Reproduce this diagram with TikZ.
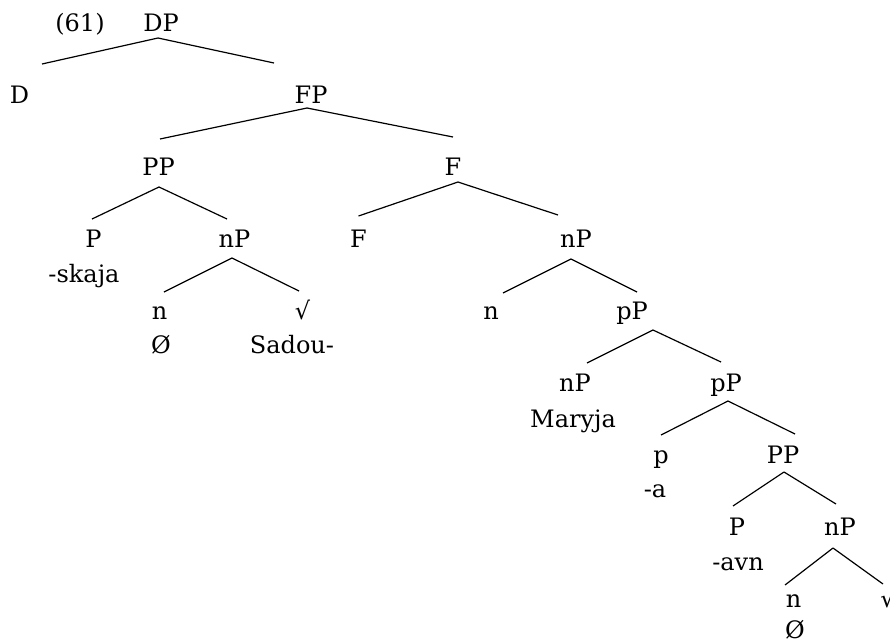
\documentclass[tikz,border=0pt]{standalone}
\usepackage{fontspec}
\setmainfont{DejaVu Serif}

\begin{document}
\begin{tikzpicture}[x=1pt, y=-1pt, line width=1.2pt,
    every node/.style={anchor=base, inner sep=0pt, font=\fontsize{24}{28}\selectfont}]
    \useasboundingbox (0,0) rectangle (890,643);

    % labels, row by row (baselines 72pt apart)
    \node (num) at (80,31) {(61)};
    \node (DP) at (161,31) {DP};

    \node (D) at (19.5,103) {D};
    \node (FP) at (311,103) {FP};

    \node (PP1) at (158.5,175) {PP};
    \node (F1) at (453,175) {F};

    \node (P1) at (93.5,247) {P};
    \node (nP1) at (234.5,247) {nP};
    \node (F2) at (358.5,247) {F};
    \node (nP2) at (576,247) {nP};
    \node (skaja) at (84,282) {-skaja};

    \node (n1) at (159.5,319) {n};
    \node (root1) at (302.5,319) {√};
    \node (n2) at (491,319) {n};
    \node (pP1) at (632,319) {pP};
    \node (zero1) at (161,353) {Ø};
    \node (sadou) at (292,353) {Sadou-};

    \node (nP3) at (575,391) {nP};
    \node (pP2) at (726,391) {pP};
    \node (maryja) at (573,427) {Maryja};

    \node (p1) at (661,463) {p};
    \node (PP2) at (783,463) {PP};
    \node (a) at (655,497) {-a};

    \node (P2) at (737,535) {P};
    \node (nP4) at (840,535) {nP};
    \node (avn) at (738,570) {-avn};

    \node (n3) at (793.5,607) {n};
    \node (root2) at (888,607) {√};
    \node (zero2) at (795,638) {Ø};

    % branches
    \draw ([shift={(-3pt,-7pt)}]DP.base) -- ([shift={(22.5pt,39pt)}]D.base);
    \draw ([shift={(-3pt,-7pt)}]DP.base) -- ([shift={(-37pt,40pt)}]FP.base);

    \draw ([shift={(-4pt,-5pt)}]FP.base) -- ([shift={(1.5pt,36pt)}]PP1.base);
    \draw ([shift={(-4pt,-5pt)}]FP.base) -- ([shift={(0pt,38pt)}]F1.base);

    \draw ([shift={(0.5pt,-12pt)}]PP1.base) -- ([shift={(-1.5pt,28pt)}]P1.base);
    \draw ([shift={(0.5pt,-12pt)}]PP1.base) -- ([shift={(-7.5pt,28pt)}]nP1.base);

    \draw ([shift={(5pt,-7pt)}]F1.base) -- ([shift={(0pt,31pt)}]F2.base);
    \draw ([shift={(5pt,-7pt)}]F1.base) -- ([shift={(-18pt,32pt)}]nP2.base);

    \draw ([shift={(-2.5pt,-11pt)}]nP1.base) -- ([shift={(4.5pt,27pt)}]n1.base);
    \draw ([shift={(-2.5pt,-11pt)}]nP1.base) -- ([shift={(-3.5pt,28pt)}]root1.base);

    \draw ([shift={(-5pt,-12pt)}]nP2.base) -- ([shift={(12pt,26pt)}]n2.base);
    \draw ([shift={(-5pt,-12pt)}]nP2.base) -- ([shift={(5pt,27pt)}]pP1.base);

    \draw ([shift={(21pt,-11pt)}]pP1.base) -- ([shift={(12pt,28pt)}]nP3.base);
    \draw ([shift={(21pt,-11pt)}]pP1.base) -- ([shift={(-5pt,29pt)}]pP2.base);

    \draw ([shift={(2pt,-10pt)}]pP2.base) -- ([shift={(0pt,28pt)}]p1.base);
    \draw ([shift={(2pt,-10pt)}]pP2.base) -- ([shift={(12pt,29pt)}]PP2.base);

    \draw ([shift={(1pt,-9pt)}]PP2.base) -- ([shift={(-4pt,29pt)}]P2.base);
    \draw ([shift={(1pt,-9pt)}]PP2.base) -- ([shift={(-4pt,31pt)}]nP4.base);

    \draw ([shift={(-7pt,-13pt)}]nP4.base) -- ([shift={(-8.5pt,22pt)}]n3.base);
    \draw ([shift={(-7pt,-13pt)}]nP4.base) -- ([shift={(-5pt,23pt)}]root2.base);
\end{tikzpicture}
\end{document}
